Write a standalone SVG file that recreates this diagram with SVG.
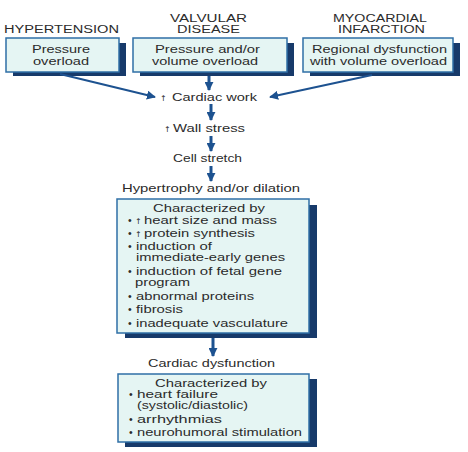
<svg xmlns="http://www.w3.org/2000/svg" width="468" height="452" viewBox="0 0 468 452">
<style>
text{font-family:"Liberation Sans",Arial,sans-serif;font-size:10.5px;fill:#2b2b2b;}
.cap{font-size:10px;}
.m{text-anchor:middle;}
.up{font-family:"DejaVu Sans",sans-serif;font-size:8px;}
.box{fill:#e5f5f3;stroke:#2f6fa6;stroke-width:1.5;}
.sh{fill:#173a6a;}
.con{stroke:#1d5290;fill:none;}
.thin{stroke-width:2;}
.thick{stroke-width:3;}
</style>
<defs>
<marker id="ah" viewBox="0 0 10 10" refX="9" refY="5" markerUnits="userSpaceOnUse" markerWidth="9" markerHeight="9" orient="auto">
<path d="M0,0 L10,5 L0,10 z" fill="#1d5290"/>
</marker>
</defs>
<rect width="468" height="452" fill="#ffffff"/>

<g id="hypertension">
<text class="m cap" x="61.5" y="33" textLength="115" lengthAdjust="spacingAndGlyphs">HYPERTENSION</text>
<rect class="sh" x="13" y="43" width="113" height="33"/>
<rect class="box" x="6" y="38" width="113" height="34"/>
<text class="m" x="61" y="53" textLength="58" lengthAdjust="spacingAndGlyphs">Pressure</text>
<text class="m" x="61" y="65" textLength="56" lengthAdjust="spacingAndGlyphs">overload</text>
</g>

<g id="valvular">
<text class="m cap" x="208.5" y="22" textLength="77" lengthAdjust="spacingAndGlyphs">VALVULAR</text>
<text class="m cap" x="208.5" y="33" textLength="63" lengthAdjust="spacingAndGlyphs">DISEASE</text>
<rect class="sh" x="140" y="43" width="154" height="33"/>
<rect class="box" x="133" y="38" width="154" height="34"/>
<text class="m" x="207.5" y="53" textLength="105" lengthAdjust="spacingAndGlyphs">Pressure and/or</text>
<text class="m" x="205" y="65" textLength="106" lengthAdjust="spacingAndGlyphs">volume overload</text>
</g>

<g id="myocardial">
<text class="m cap" x="380" y="22" textLength="94" lengthAdjust="spacingAndGlyphs">MYOCARDIAL</text>
<text class="m cap" x="381.5" y="33" textLength="87" lengthAdjust="spacingAndGlyphs">INFARCTION</text>
<rect class="sh" x="310" y="43" width="150" height="33"/>
<rect class="box" x="303" y="38" width="150" height="34"/>
<text class="m" x="379.5" y="53" textLength="135" lengthAdjust="spacingAndGlyphs">Regional dysfunction</text>
<text class="m" x="378.5" y="65" textLength="137" lengthAdjust="spacingAndGlyphs">with volume overload</text>
</g>

<g id="cardiac-work">
<text class="up" x="160" y="101">↑</text>
<text x="172" y="101" textLength="85" lengthAdjust="spacingAndGlyphs">Cardiac work</text>
</g>

<g id="wall-stress">
<text class="up" x="164" y="132">↑</text>
<text x="173" y="132" textLength="72" lengthAdjust="spacingAndGlyphs">Wall stress</text>
</g>

<g id="cell-stretch">
<text x="173" y="162" textLength="69" lengthAdjust="spacingAndGlyphs">Cell stretch</text>
</g>

<g id="hypertrophy">
<text x="122" y="192" textLength="178" lengthAdjust="spacingAndGlyphs">Hypertrophy and/or dilation</text>
<rect class="sh" x="125" y="205" width="192" height="133"/>
<rect class="box" x="117" y="199" width="192" height="134"/>
<text x="153" y="212" textLength="112" lengthAdjust="spacingAndGlyphs">Characterized by</text>
<text x="128" y="224">•</text><text class="up" x="135" y="224">↑</text>
<text x="144" y="224" textLength="133" lengthAdjust="spacingAndGlyphs">heart size and mass</text>
<text x="128" y="237">•</text><text class="up" x="135" y="237">↑</text>
<text x="144" y="237" textLength="111" lengthAdjust="spacingAndGlyphs">protein synthesis</text>
<text x="128" y="250">•</text>
<text x="136" y="250" textLength="76" lengthAdjust="spacingAndGlyphs">induction of</text>
<text x="136" y="261" textLength="149" lengthAdjust="spacingAndGlyphs">immediate-early genes</text>
<text x="128" y="275">•</text>
<text x="136" y="275" textLength="146" lengthAdjust="spacingAndGlyphs">induction of fetal gene</text>
<text x="135" y="286" textLength="55" lengthAdjust="spacingAndGlyphs">program</text>
<text x="128" y="300">•</text>
<text x="136" y="300" textLength="118" lengthAdjust="spacingAndGlyphs">abnormal proteins</text>
<text x="128" y="313">•</text>
<text x="136" y="313" textLength="47" lengthAdjust="spacingAndGlyphs">fibrosis</text>
<text x="128" y="327">•</text>
<text x="136" y="327" textLength="152" lengthAdjust="spacingAndGlyphs">inadequate vasculature</text>
</g>

<g id="cardiac-dysfunction">
<text x="148" y="367" textLength="127" lengthAdjust="spacingAndGlyphs">Cardiac dysfunction</text>
<rect class="sh" x="125" y="379" width="192" height="68"/>
<rect class="box" x="118" y="374" width="191" height="68"/>
<text x="155" y="387" textLength="112" lengthAdjust="spacingAndGlyphs">Characterized by</text>
<text x="129" y="398">•</text>
<text x="137" y="398" textLength="81" lengthAdjust="spacingAndGlyphs">heart failure</text>
<text x="137" y="409" textLength="111" lengthAdjust="spacingAndGlyphs">(systolic/diastolic)</text>
<text x="129" y="423">•</text>
<text x="137" y="423" textLength="85" lengthAdjust="spacingAndGlyphs">arrhythmias</text>
<text x="129" y="436">•</text>
<text x="137" y="436" textLength="165" lengthAdjust="spacingAndGlyphs">neurohumoral stimulation</text>
</g>

<g id="connectors">
<path class="con thin" d="M60,74 L155,97" marker-end="url(#ah)"/>
<path class="con thick" d="M209,76 L209,90" marker-end="url(#ah)"/>
<path class="con thin" d="M372,75 L270,97" marker-end="url(#ah)"/>
<path class="con thick" d="M211,104 L211,120" marker-end="url(#ah)"/>
<path class="con thick" d="M211,136 L211,151" marker-end="url(#ah)"/>
<path class="con thick" d="M211,166 L211,181" marker-end="url(#ah)"/>
<path class="con thick" d="M213,338 L213,356" marker-end="url(#ah)"/>
</g>
</svg>
